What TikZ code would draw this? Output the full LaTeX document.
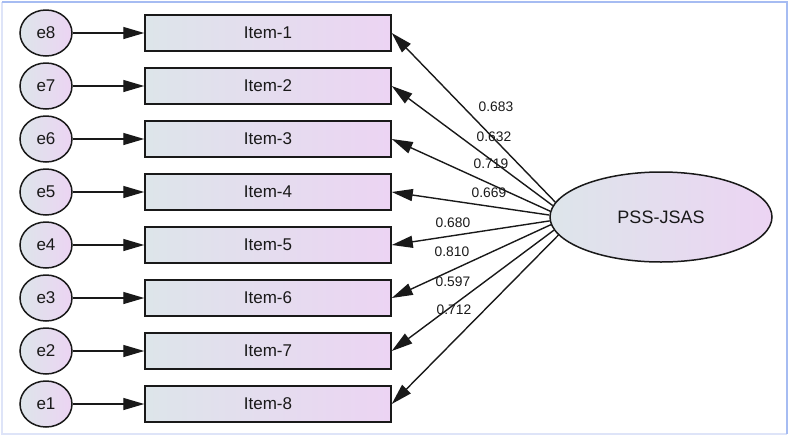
\documentclass[tikz,border=0pt]{standalone}
\usepackage{fontspec}
\setmainfont{Liberation Sans}
\usetikzlibrary{arrows.meta,shapes.geometric}
\definecolor{fillL}{RGB}{221,229,234}
\definecolor{fillR}{RGB}{236,212,243}
\definecolor{ink}{RGB}{25,25,25}
\definecolor{frameD}{RGB}{166,188,242}
\definecolor{frameL}{RGB}{222,228,248}
\tikzset{
  itembox/.style={draw=ink, line width=1.5pt, left color=fillL, right color=fillR,
    minimum width=246pt, minimum height=36pt, inner sep=0pt, text=ink,
    font=\fontsize{17}{19}\selectfont},
  errnode/.style={ellipse, draw=ink, line width=1.5pt, left color=fillL, right color=fillR,
    minimum width=52pt, minimum height=46pt, inner sep=0pt, text=ink,
    font=\fontsize{17}{19}\selectfont},
  latent/.style={ellipse, draw=ink, line width=1.5pt, left color=fillL, right color=fillR,
    minimum width=222pt, minimum height=90pt, inner sep=0pt, text=ink,
    font=\fontsize{18}{20}\selectfont},
  arr/.style={draw=ink, line width=1.4pt, -{Triangle[length=21pt,width=12pt]}},
  lbl/.style={text=ink, inner sep=0pt, font=\fontsize{13.8}{16}\selectfont}
}
\begin{document}
\begin{tikzpicture}[x=1pt,y=-1pt]
\useasboundingbox (0,0) rectangle (790,437);
\draw[frameL, line width=2pt] (2,2) -- (2,434) -- (787,434);
\draw[frameD, line width=2pt] (2,2) -- (787,2) -- (787,434);
\foreach \i/\e in {1/8,2/7,3/6,4/5,5/4,6/3,7/2,8/1} {
  \pgfmathsetmacro{\yy}{33+53*(\i-1)}
  \node[itembox] (i\i) at (268,\yy) {Item-\i};
  \node[errnode] (e\e) at (46,\yy) {e\e};
  \draw[arr] (e\e) -- (i\i);
}
\node[latent] (pss) at (661,217) {PSS-JSAS};
\foreach \i/\a in {1/172,2/174.6,3/177.1,4/179.7,5/182.3,6/184.9,7/187.4,8/190} {
  \draw[arr] (pss.\a) -- (i\i.east);
}
\node[lbl] (l1) at (496,107) {0.683};
\node[lbl] (l2) at (494,137) {0.632};
\node[lbl] (l3) at (491,164) {0.719};
\node[lbl] (l4) at (489,193) {0.669};
\node[lbl] (l5) at (453,223) {0.680};
\node[lbl] (l6) at (452,252) {0.810};
\node[lbl] (l7) at (453,282) {0.597};
\node[lbl] (l8) at (454,310) {0.712};
\end{tikzpicture}
\end{document}
